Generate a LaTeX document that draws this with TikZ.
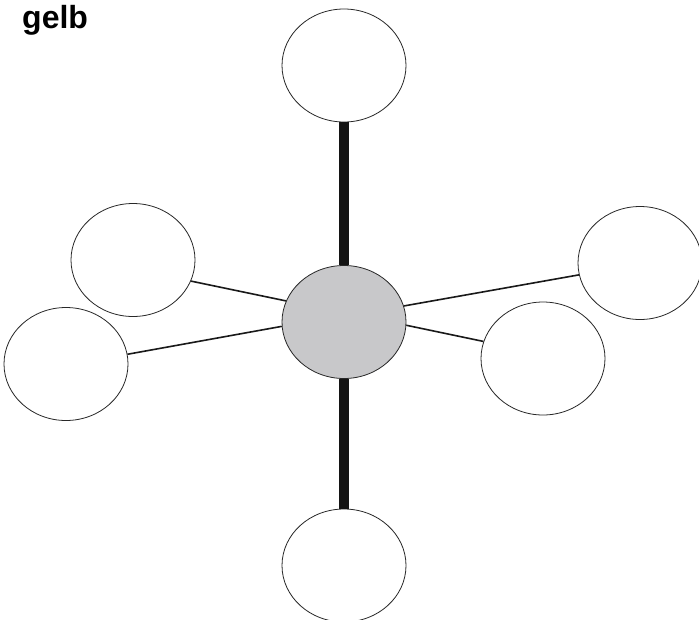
\documentclass[tikz,border=0pt]{standalone}
\usepackage{fontspec}
\setmainfont{Liberation Sans}
\usetikzlibrary{shapes.geometric}
\definecolor{cgray}{RGB}{200,200,202}
\definecolor{edge}{RGB}{40,40,40}
\tikzset{
  blob/.style={ellipse, draw=edge, line width=0.8pt, fill=white, minimum width=124pt, minimum height=113pt, inner sep=0pt},
  hub/.style={blob, fill=cgray},
  thick link/.style={line width=10pt, draw=black!92},
  thin link/.style={line width=1.6pt, draw=black!90},
}
\begin{document}
\begin{tikzpicture}[x=1pt,y=-1pt]
\useasboundingbox (0,0) rectangle (699,619);
\node[anchor=base west, inner sep=0pt, font=\bfseries\fontsize{32}{32}\selectfont] (title) at (22,28) {gelb};
\node[hub] (c) at (344,322) {};
\node[blob] (t) at (344,65.5) {};
\node[blob] (b) at (344,565.5) {};
\node[blob] (lu) at (133,260) {};
\node[blob] (ll) at (66,364) {};
\node[blob] (ru) at (640,263) {};
\node[blob] (rl) at (543,358.5) {};
\draw[thick link] (t.south) -- (c.north);
\draw[thick link] (c.south) -- (b.north);
\draw[thin link] (lu.-20.2) -- (c.160);
\draw[thin link] (ll.9.2) -- (c.184.6);
\draw[thin link] (ru.191.7) -- (c.15.2);
\draw[thin link] (rl.164.8) -- (c.-3.7);
\end{tikzpicture}
\end{document}
